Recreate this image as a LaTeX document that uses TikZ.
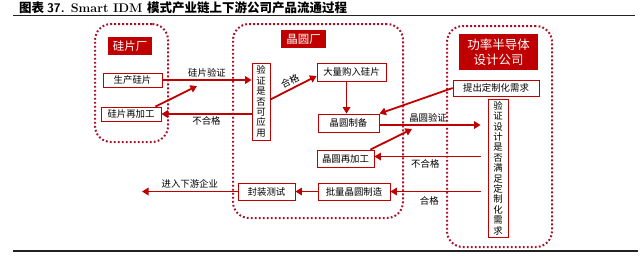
\documentclass[tikz,border=0pt]{standalone}
\usepackage{fontspec}
\usepackage{tikz}
\usetikzlibrary{positioning,calc,arrows.meta}
\newfontfamily\cjk{Noto Sans CJK SC}
\definecolor{BrickRed}{HTML}{C00000}
\definecolor{DotRed}{HTML}{A8102A}
\definecolor{RuleBlack}{HTML}{222222}

\begin{document}
\begin{tikzpicture}[x=1pt,y=-1pt,
  zone/.style={draw=DotRed, line width=2pt, dash pattern=on 1.8pt off 2.2pt,
               rounded corners=16pt, inner sep=0pt},
  headbox/.style={fill=BrickRed, text=white, inner sep=0pt, align=center,
                  font=\cjk\fontsize{11.5}{14}\selectfont},
  stagebox/.style={draw=BrickRed, line width=0.8pt, fill=white, inner sep=0pt,
                   align=center, font=\cjk\fontsize{9.4}{10.4}\selectfont},
  flow/.style={draw=BrickRed, line width=1.8pt, -{Triangle[length=6.5pt,width=7.5pt]}},
  tag/.style={font=\cjk\fontsize{9.4}{10}\selectfont, inner sep=2pt}
]
  \useasboundingbox (0,0) rectangle (640,255);

  % title and rules
  \node[anchor=west, inner sep=0pt] (title) at (19,8)
    {\fontsize{12.5}{14}\selectfont\bfseries{\cjk 图表 }{\sffamily 37.} Smart IDM {\cjk 模式产业链上下游公司产品流通过程}};
  \draw[RuleBlack, line width=0.8pt] (13,15.5) -- (635,15.5);
  \draw[RuleBlack, line width=1.4pt] (13,251) -- (638,251);

  % three companies
  \node[zone, minimum width=73pt, minimum height=118pt] (silfab) at (131.5,83) {};
  \node[zone, minimum width=170pt, minimum height=194pt] (wafab) at (318,121) {};
  \node[zone, minimum width=105pt, minimum height=221pt] (design) at (499.5,136.5) {};

  \node[headbox, minimum width=44pt, minimum height=18pt] (silfabT) at (130,46) {硅片厂};
  \node[headbox, minimum width=45pt, minimum height=18pt] (wafabT) at (303.5,39) {晶圆厂};
  \node[headbox, minimum width=79pt, minimum height=36pt,
        font=\cjk\fontsize{12.5}{15}\selectfont] (designT) at (498.5,52) {功率半导体\\设计公司};

  % silicon side
  \node[stagebox, minimum width=59pt, minimum height=14pt] (prod) at (132.5,80) {生产硅片};
  \node[stagebox, minimum width=60pt, minimum height=14pt] (rework) at (131,114) {硅片再加工};

  % wafer side
  \node[stagebox, minimum width=18pt, minimum height=77pt] (check) at (261,101.5)
    {验\\证\\是\\否\\可\\应\\用};
  \node[stagebox, minimum width=69pt, minimum height=18pt] (buy) at (351.5,72) {大量购入硅片};
  \node[stagebox, minimum width=61pt, minimum height=18pt] (prep) at (348.5,123) {晶圆制备};
  \node[stagebox, minimum width=57pt, minimum height=17pt] (rework2) at (345.5,158.5) {晶圆再加工};
  \node[stagebox, minimum width=72pt, minimum height=17pt] (mass) at (354,191.5) {批量晶圆制造};
  \node[stagebox, minimum width=57pt, minimum height=17pt] (pack) at (266.5,191.5) {封装测试};

  % design side
  \node[stagebox, minimum width=86pt, minimum height=16pt] (req) at (496,88) {提出定制化需求};
  \node[stagebox, minimum width=20pt, minimum height=138pt] (check2) at (498,168)
    {验\\证\\设\\计\\是\\否\\满\\足\\定\\制\\化\\需\\求};

  % loose ends
  \coordinate (back1) at (197,86);
  \coordinate (back2) at (412,129);
  \coordinate (outlet) at (142,191.5);

  % flows
  \draw[flow] (prod.east) -- (prod.east -| check.west)
    node[midway, above, tag] {硅片验证};
  \draw[flow] (rework.east -| check.west) -- (rework.east)
    node[midway, below, tag] {不合格};
  \draw[flow] ([xshift=-6pt]rework.north east) -- (back1);
  \draw[flow] ([yshift=2pt]check.east) -- ([yshift=-4pt]buy.west)
    node[pos=0.5, sloped, above=1.5pt, tag, inner sep=1pt] {合格};
  \draw[flow] ([xshift=-5pt]buy.south) -- ([xshift=-2pt]prep.north);
  \draw[flow] (req.west) -- (prep.north east);
  \draw[flow, shorten >=7pt] ([yshift=-2pt]prep.east) -- ([yshift=-2pt]prep.east -| check2.west)
    node[pos=0.45, above, tag] {晶圆验证};
  \draw[flow] ([xshift=-4pt]rework2.north east) -- (back2);
  \draw[flow, shorten <=7pt] ([yshift=2pt]rework2.east -| check2.west) -- ([yshift=2pt]rework2.east)
    node[pos=0.55, below, tag] {不合格};
  \draw[flow, shorten <=7pt] (mass.east -| check2.west) -- (mass.east)
    node[pos=0.6, below=2pt, tag] {合格};
  \draw[flow] (mass.west) -- (pack.east);
  \draw[flow] (pack.west) -- (outlet)
    node[midway, above, tag] {进入下游企业};
\end{tikzpicture}
\end{document}
